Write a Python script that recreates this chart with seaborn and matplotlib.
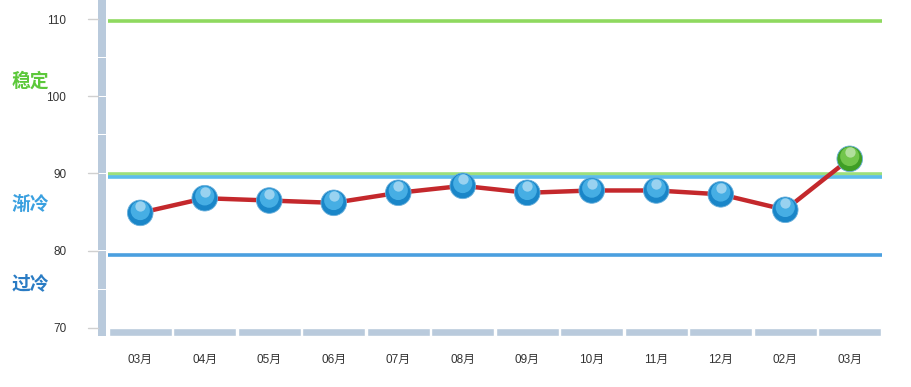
import matplotlib
matplotlib.use('Agg')
import matplotlib.pyplot as plt
import matplotlib.transforms as mtransforms
from matplotlib.patches import Rectangle
import seaborn as sns
import pandas as pd
import numpy as np

# Data
months = ['03月', '04月', '05月', '06月', '07月', '08月', '09月', '10月', '11月', '12月', '02月', '03月']
values = [84.9, 86.8, 86.5, 86.2, 87.5, 88.4, 87.5, 87.8, 87.8, 87.3, 85.3, 91.9]
ref_lines = [109.7, 89.9, 89.6, 79.5]
ref_colors = ['#8fd95f', '#9ddf7c', '#5cbcec', '#4a9fdf']
zone_names = ['稳定', '渐冷', '过冷']
zone_pos = [102.0, 86.0, 75.7]
zone_colors = ['#5cc83a', '#3aa0e0', '#2a7cc4']

sns.set_style('white')
plt.rcParams['font.family'] = ['Liberation Sans', 'Noto Sans CJK SC', 'DejaVu Sans']

df = pd.DataFrame({'x': np.arange(len(months)), 'value': values})

fig = plt.figure(figsize=(9.11, 3.87), dpi=100)
W, H = 911, 387
ax = fig.add_axes([108 / W, (H - 336) / H, 774 / W, 336 / H])
ax.set_xlim(-0.5, len(months) - 0.5)
ax.set_ylim(68.96, 112.46)

bar_col = '#b9cadc'

# reference lines
for y, c in zip(ref_lines, ref_colors):
    ax.axhline(y, color=c, lw=2.6, zorder=1)

# bottom segmented axis bar
ax.bar(df['x'], height=70 - 68.96, bottom=68.96, width=0.97, color=bar_col, zorder=2)

# left vertical bar, segmented every 5 units
trans = mtransforms.blended_transform_factory(ax.transAxes, ax.transData)
edges = [68.96] + list(range(70, 111, 5)) + [112.46]
for lo, hi in zip(edges[:-1], edges[1:]):
    ax.add_patch(Rectangle((-10 / 774, lo + 0.05), 8 / 774, hi - lo - 0.1,
                           transform=trans, color=bar_col, clip_on=False, lw=0))
for t in range(70, 111, 10):
    ax.plot([-20 / 774, -10 / 774], [t, t], transform=trans, color='#d0d0d0',
            lw=1, clip_on=False)

# red line
sns.lineplot(data=df, x='x', y='value', color='#c4282c', lw=3.2, ax=ax, zorder=3,
             solid_capstyle='round', solid_joinstyle='round')

# glossy markers
colors = ['#1a86c8'] * (len(values) - 1) + ['#3f9e25']
lights = ['#4fb6ea'] * (len(values) - 1) + ['#7ccd52']
sns.scatterplot(x=df['x'], y=df['value'], s=340, c=colors, marker='o',
                edgecolor='#6ab0dc', linewidth=0.6, ax=ax, zorder=4)
sns.scatterplot(x=df['x'], y=df['value'] + 0.3, s=190, c=lights, marker='o',
                linewidth=0, alpha=0.85, ax=ax, zorder=5)
sns.scatterplot(x=df['x'], y=df['value'] + 0.85, s=55, c='white', marker='o',
                linewidth=0, alpha=0.45, ax=ax, zorder=6)

# ticks and labels
ax.set_yticks(range(70, 111, 10))
ax.set_yticklabels([str(t) for t in range(70, 111, 10)], fontsize=8.5, color='#333333')
ax.tick_params(axis='y', length=0, pad=30)
ax.set_xticks(df['x'])
ax.set_xticklabels(months, fontsize=8.5, color='#333333')
ax.tick_params(axis='x', length=0, pad=13)
ax.set_xlabel('')
ax.set_ylabel('')
for s in ax.spines.values():
    s.set_visible(False)

# zone labels on the left
ttrans = mtransforms.blended_transform_factory(fig.transFigure, ax.transData)
for name, yv, c in zip(zone_names, zone_pos, zone_colors):
    ax.text(12 / W, yv, name, transform=ttrans, color=c, fontsize=13.5,
            fontweight='bold', va='center', ha='left',
            family=['Noto Sans CJK SC', 'DejaVu Sans'])

fig.savefig('out.png', dpi=100)
